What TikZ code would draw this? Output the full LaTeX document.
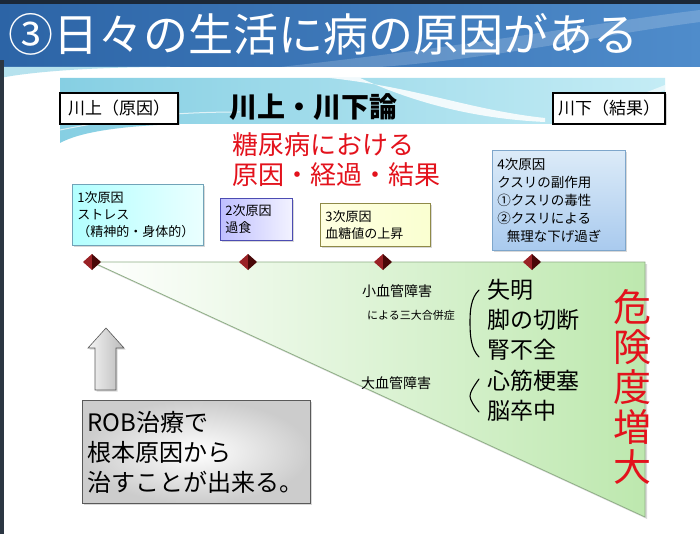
\documentclass[tikz,border=0pt]{standalone}
\usepackage{fontspec}
\setmainfont{Noto Sans CJK JP}
\usetikzlibrary{shadows}
\definecolor{titleA}{HTML}{2C64A6}
\definecolor{titleB}{HTML}{4F8CCB}
\definecolor{topdark}{HTML}{1B2838}
\definecolor{leftdark}{HTML}{2B3642}
\definecolor{bannerA}{HTML}{86CFE3}
\definecolor{bannerB}{HTML}{C4ECF5}
\definecolor{redtxt}{HTML}{E3121C}
\definecolor{triGreen}{HTML}{BDE8AE}
\definecolor{triEdge}{HTML}{8FAF86}
\definecolor{mkA}{HTML}{9A2226}
\definecolor{mkB}{HTML}{4A0808}
\definecolor{b4top}{HTML}{DCEBF8}
\definecolor{b4bot}{HTML}{A9CAEE}
\definecolor{b4edge}{HTML}{7EA6CB}
\tikzset{
  sidelabel/.style={draw=black, line width=1.3pt, fill=white, minimum height=31pt,
    inner sep=2pt, font=\fontsize{17}{20}\selectfont,
    drop shadow={opacity=.3, shadow xshift=1.5pt, shadow yshift=-1.5pt}},
  causebox/.style={draw=#1, line width=.6pt, anchor=north west, align=left,
    inner xsep=5pt, inner ysep=3pt, font=\fontsize{13}{17}\selectfont,
    drop shadow={opacity=.3, shadow xshift=1.5pt, shadow yshift=-1.5pt}},
  midtxt/.style={anchor=west, inner sep=0pt, font=\fontsize{14}{16}\selectfont},
  bigtxt/.style={anchor=west, inner sep=0pt, font=\fontsize{23}{26}\selectfont},
  marker/.pic={
    \fill[mkA] (-9,0) -- (0,-8) -- (0,8) -- cycle;
    \fill[mkB] (0,-8) -- (9,0) -- (0,8) -- cycle;
  },
  brk/.style={line width=1.1pt, line cap=round}
}
\begin{document}
\begin{tikzpicture}[x=1pt,y=-1pt]
\useasboundingbox (0,0) rectangle (700,534);
\fill[white] (0,0) rectangle (700,534);
% title bar
\shade[left color=titleA, right color=titleB] (0,0) rectangle (700,67);
\fill[white, opacity=.18] (280,67) .. controls (480,45) and (600,22) .. (700,10) -- (700,22) .. controls (600,35) and (500,58) .. (380,67) -- cycle;
\fill[topdark] (0,0) rectangle (700,4);
\fill[bannerA!60] (0,67) -- (0,78) .. controls (30,72) and (90,67) .. (170,67) -- cycle;
\fill[leftdark] (0,60) rectangle (4,534);
\node[anchor=west, text=white, inner sep=0pt, font=\fontsize{45}{48}\selectfont] (title) at (8,34) {③日々の生活に病の原因がある};
% banner
\shade[left color=bannerA, right color=bannerB] (60,78) -- (665,78) -- (665,124) -- (180,124) .. controls (120,126) and (80,132) .. (60,143) -- cycle;
\fill[white, opacity=.85] (330,78) .. controls (420,88) and (470,110) .. (545,118) -- (545,122) .. controls (460,118) and (400,96) .. (360,78) -- cycle;
\fill[white, opacity=.6] (560,118) .. controls (600,110) and (640,95) .. (665,85) -- (665,90) .. controls (640,100) and (600,114) .. (560,120) -- cycle;
\draw[white, opacity=.7, line width=1pt] (60,130) .. controls (120,118) and (170,112) .. (240,112);
\fill[white] (215,124) rectangle (460,196);
% labels
\node[sidelabel, minimum width=118pt] (up) at (119,108.5) {川上（原因）};
\node[sidelabel, minimum width=112pt] (down) at (609,108.5) {川下（結果）};
\node[anchor=west, inner sep=0pt, font=\bfseries\fontsize{28}{30}\selectfont] (theory) at (229,107) {川上・川下論};
\node[anchor=north west, inner sep=0pt, align=left, text=redtxt, font=\fontsize{26}{30}\selectfont] (sub) at (232,132) {糖尿病における\\原因・経過・結果};
% triangle
\coordinate (tA) at (92,262);
\coordinate (tB) at (645,262);
\coordinate (tC) at (645,517);
\fill[black, opacity=.15] ([shift={(2,2)}]tA) -- ([shift={(2,2)}]tB) -- ([shift={(2,2)}]tC) -- cycle;
\shade[left color=white, right color=triGreen, draw=triEdge, line width=.8pt] (tA) -- (tB) -- (tC) -- cycle;
% cause boxes
\node[causebox=cyan!40!gray, left color=cyan!30, right color=cyan!8, minimum width=131pt, minimum height=61pt, text width=121pt] (c1) at (72,184) {1次原因\\ストレス\\（精神的・身体的）};
\node[causebox=blue!40!gray, left color=blue!25, right color=blue!5, minimum width=72pt, minimum height=42pt, text width=62pt] (c2) at (220,198) {2次原因\\過食};
\node[causebox=olive!50!gray, left color=yellow!12, right color=green!12!yellow!18, minimum width=110pt, minimum height=43pt, text width=100pt] (c3) at (320,203) {3次原因\\血糖値の上昇};
\node[causebox=b4edge, top color=b4top, bottom color=b4bot, minimum width=133pt, minimum height=100pt, text width=123pt, font=\fontsize{13.5}{18}\selectfont] (c4) at (492,150) {4次原因\\クスリの副作用\\①クスリの毒性\\②クスリによる\\\hspace*{0.7em}無理な下げ過ぎ};
% markers
\pic at (92,262) {marker};
\pic at (248,262) {marker};
\pic at (383,262) {marker};
\pic at (532,262) {marker};
% triangle texts
\node[midtxt] (small) at (362,291) {小血管障害};
\node[midtxt, font=\fontsize{11}{13}\selectfont] (comp) at (367,315) {による三大合併症};
\node[midtxt] (large) at (361,383) {大血管障害};
\draw[brk] (479,290) .. controls (471,298) and (470,310) .. (470,322) .. controls (470,336) and (471,349) .. (479,357);
\draw[brk] (479,379) .. controls (474,386) and (470,392) .. (470,396) .. controls (470,400) and (474,406) .. (479,412);
\node[bigtxt] (r1) at (487,290) {失明};
\node[bigtxt] (r2) at (487,320) {脚の切断};
\node[bigtxt] (r3) at (487,350) {腎不全};
\node[bigtxt] (r4) at (487,381) {心筋梗塞};
\node[bigtxt] (r5) at (487,411) {脳卒中};
\node[text=redtxt, align=center, inner sep=0pt, font=\fontsize{38}{40}\selectfont] (danger) at (632,387) {危\\険\\度\\増\\大};
% up arrow
\draw[gray!70!black, line width=.6pt, left color=gray!8, right color=gray!55,
  drop shadow={opacity=.3, shadow xshift=1.5pt, shadow yshift=-1.5pt}]
  (95,390) -- (95,348) -- (88,348) -- (106,328) -- (124,348) -- (116,348) -- (116,390) -- cycle;
% ROB box
\node[draw=gray!70!black, line width=.8pt, anchor=north west, align=left, inner color=white, outer color=gray!40,
  minimum width=228pt, minimum height=103pt, text width=218pt, inner xsep=5pt,
  font=\fontsize{24}{30}\selectfont,
  drop shadow={opacity=.3, shadow xshift=1.5pt, shadow yshift=-1.5pt}] (rob) at (82,400) {ROB治療で\\根本原因から\\治すことが出来る。};
\end{tikzpicture}
\end{document}
